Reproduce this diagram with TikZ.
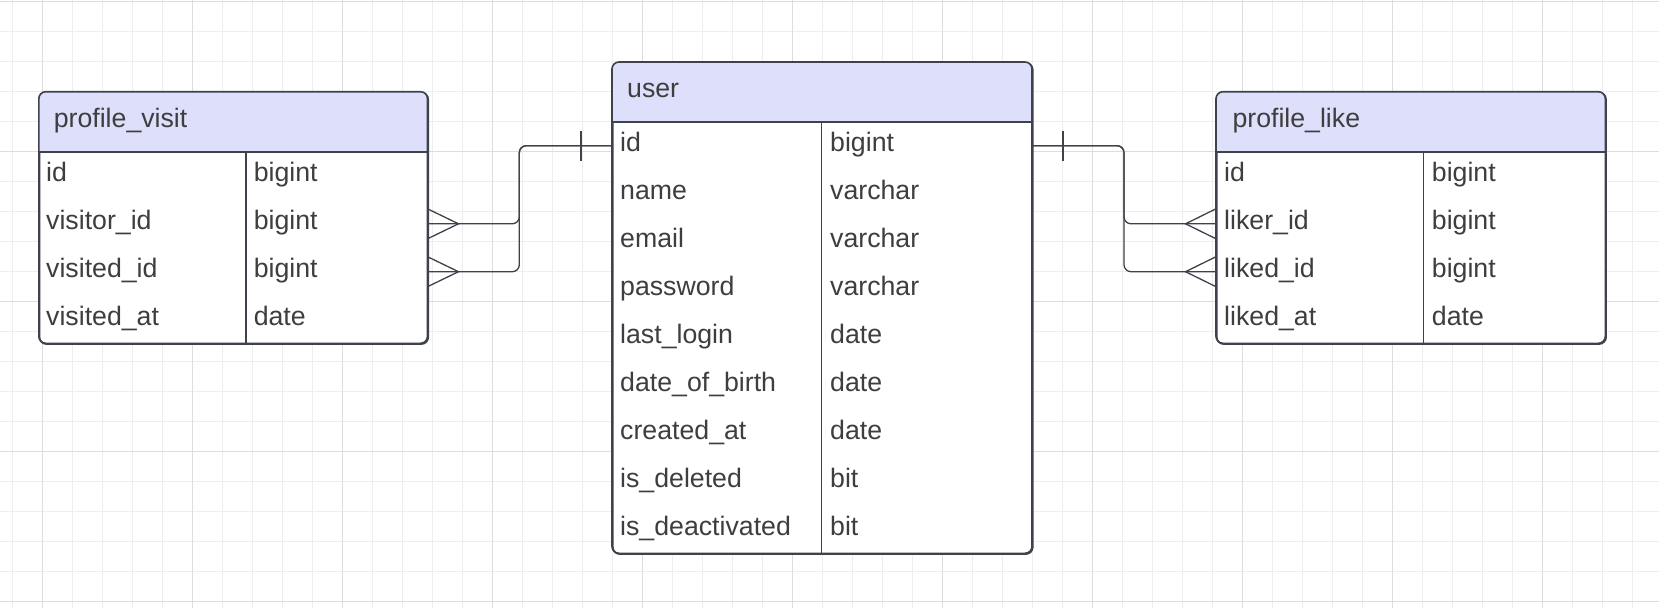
\documentclass[tikz,border=0pt]{standalone}
\usepackage{fontspec}
\setmainfont{Liberation Sans}
\usetikzlibrary{calc}
\definecolor{gridminor}{RGB}{238,238,238}
\definecolor{gridmajor}{RGB}{221,221,221}
\definecolor{hdrfill}{RGB}{222,223,251}
\definecolor{edge}{RGB}{62,66,74}
\definecolor{txt}{RGB}{62,62,62}
\tikzset{
  tblbox/.style={draw=edge, line width=1.6pt, rounded corners=7pt, fill=white, inner sep=0pt, anchor=north west},
  sepline/.style={draw=edge, line width=1.2pt},
  hdrline/.style={draw=edge, line width=1.6pt},
  fld/.style={anchor=base west, inner sep=0pt, text=txt, font=\fontsize{26.7}{32}\selectfont},
  conn/.style={draw=edge, line width=1.3pt},
}
\begin{document}
\begin{tikzpicture}[x=1pt,y=-1pt]
\useasboundingbox (0,0) rectangle (1659,608);
\fill[white] (0,0) rectangle (1659,608);
% grid
\foreach \k in {0,...,54} { \draw[gridminor, line width=1pt] ({12.7+30*\k},0) -- ({12.7+30*\k},608); }
\foreach \k in {0,...,20} { \draw[gridminor, line width=1pt] (0,{1.7+30*\k}) -- (1659,{1.7+30*\k}); }
\foreach \k in {0,...,10} { \draw[gridmajor, line width=1.3pt] ({42.7+150*\k},0) -- ({42.7+150*\k},608); }
\foreach \k in {0,...,4} { \draw[gridmajor, line width=1.3pt] (0,{1.7+150*\k}) -- (1659,{1.7+150*\k}); }

% ---------- profile_visit ----------
\node[tblbox, minimum width=388.7pt, minimum height=251.6pt] (pv) at (38.8,91.7) {};
\begin{scope}
  \clip (38.8,91.7) rectangle (427.5,151.7);
  \fill[hdrfill, rounded corners=7pt] (38.8,91.7) rectangle (427.5,343.3);
\end{scope}
\draw[tblbox, fill=none] (38.8,91.7) rectangle (427.5,343.3);
\draw[hdrline] (38.8,151.7) -- (427.5,151.7);
\draw[sepline] (246,151.7) -- (246,343.3);
\node[fld] (pvh) at (53.6,127.7) {profile\_visit};
\node[fld] (pv1a) at (46,181.65) {id};          \node[fld] (pv1b) at (253.6,181.65) {bigint};
\node[fld] (pv2a) at (46,229.55) {visitor\_id};  \node[fld] (pv2b) at (253.6,229.55) {bigint};
\node[fld] (pv3a) at (46,277.45) {visited\_id};  \node[fld] (pv3b) at (253.6,277.45) {bigint};
\node[fld] (pv4a) at (46,325.35) {visited\_at};  \node[fld] (pv4b) at (253.6,325.35) {date};

% ---------- user ----------
\node[tblbox, minimum width=420pt, minimum height=491.3pt] (user) at (612,62) {};
\begin{scope}
  \clip (612,62) rectangle (1032,121.7);
  \fill[hdrfill, rounded corners=7pt] (612,62) rectangle (1032,553.3);
\end{scope}
\draw[tblbox, fill=none] (612,62) rectangle (1032,553.3);
\draw[hdrline] (612,121.7) -- (1032,121.7);
\draw[sepline] (821.7,121.7) -- (821.7,553.3);
\node[fld] (uh) at (627,97) {user};
\foreach \n/\a/\b [count=\i from 0] in {id/id/bigint, name/name/varchar, email/email/varchar, password/password/varchar, lastlogin/last\_login/date, dob/date\_of\_birth/date, created/created\_at/date, deleted/is\_deleted/bit, deact/is\_deactivated/bit} {
  \node[fld] (u-\n-a) at (620,{121.7+47.96*\i+23.98+6}) {\a};
  \node[fld] (u-\n-b) at (830,{121.7+47.96*\i+23.98+6}) {\b};
}

% ---------- profile_like ----------
\node[tblbox, minimum width=389.3pt, minimum height=251.6pt] (pl) at (1216,91.7) {};
\begin{scope}
  \clip (1216,91.7) rectangle (1605.3,151.7);
  \fill[hdrfill, rounded corners=7pt] (1216,91.7) rectangle (1605.3,343.3);
\end{scope}
\draw[tblbox, fill=none] (1216,91.7) rectangle (1605.3,343.3);
\draw[hdrline] (1216,151.7) -- (1605.3,151.7);
\draw[sepline] (1423.3,151.7) -- (1423.3,343.3);
\node[fld] (plh) at (1232.3,127.7) {profile\_like};
\node[fld] (pl1a) at (1224,181.65) {id};         \node[fld] (pl1b) at (1431.7,181.65) {bigint};
\node[fld] (pl2a) at (1224,229.55) {liker\_id};  \node[fld] (pl2b) at (1431.7,229.55) {bigint};
\node[fld] (pl3a) at (1224,277.45) {liked\_id};  \node[fld] (pl3b) at (1431.7,277.45) {bigint};
\node[fld] (pl4a) at (1224,325.35) {liked\_at};  \node[fld] (pl4b) at (1431.7,325.35) {date};

% ---------- connection points ----------
\coordinate (uidW) at (612,145.7);
\coordinate (uidE) at (1032,145.7);
\coordinate (pvVisitor) at (427.5,223.8);
\coordinate (pvVisited) at (427.5,271.7);
\coordinate (plLiker) at (1216,223.8);
\coordinate (plLiked) at (1216,271.7);

% ---------- connectors left ----------
\draw[conn, rounded corners=7pt] (uidW) -- (519.3,145.7) -- (519.3,223.8) -- (pvVisitor);
\draw[conn, rounded corners=7pt] (uidW) -- (519.3,145.7) -- (519.3,271.7) -- (pvVisited);
\draw[conn] ($(uidW)+(-31,-15)$) -- ($(uidW)+(-31,15)$);
\draw[conn] ($(pvVisitor)+(0,-15)$) -- ($(pvVisitor)+(31,0)$) -- ($(pvVisitor)+(0,15)$);
\draw[conn] ($(pvVisited)+(0,-15)$) -- ($(pvVisited)+(31,0)$) -- ($(pvVisited)+(0,15)$);

% ---------- connectors right ----------
\draw[conn, rounded corners=7pt] (uidE) -- (1124,145.7) -- (1124,223.8) -- (plLiker);
\draw[conn, rounded corners=7pt] (uidE) -- (1124,145.7) -- (1124,271.7) -- (plLiked);
\draw[conn] ($(uidE)+(31,-15)$) -- ($(uidE)+(31,15)$);
\draw[conn] ($(plLiker)+(0,-15)$) -- ($(plLiker)+(-30.5,0)$) -- ($(plLiker)+(0,15)$);
\draw[conn] ($(plLiked)+(0,-15)$) -- ($(plLiked)+(-30.5,0)$) -- ($(plLiked)+(0,15)$);
\end{tikzpicture}
\end{document}
